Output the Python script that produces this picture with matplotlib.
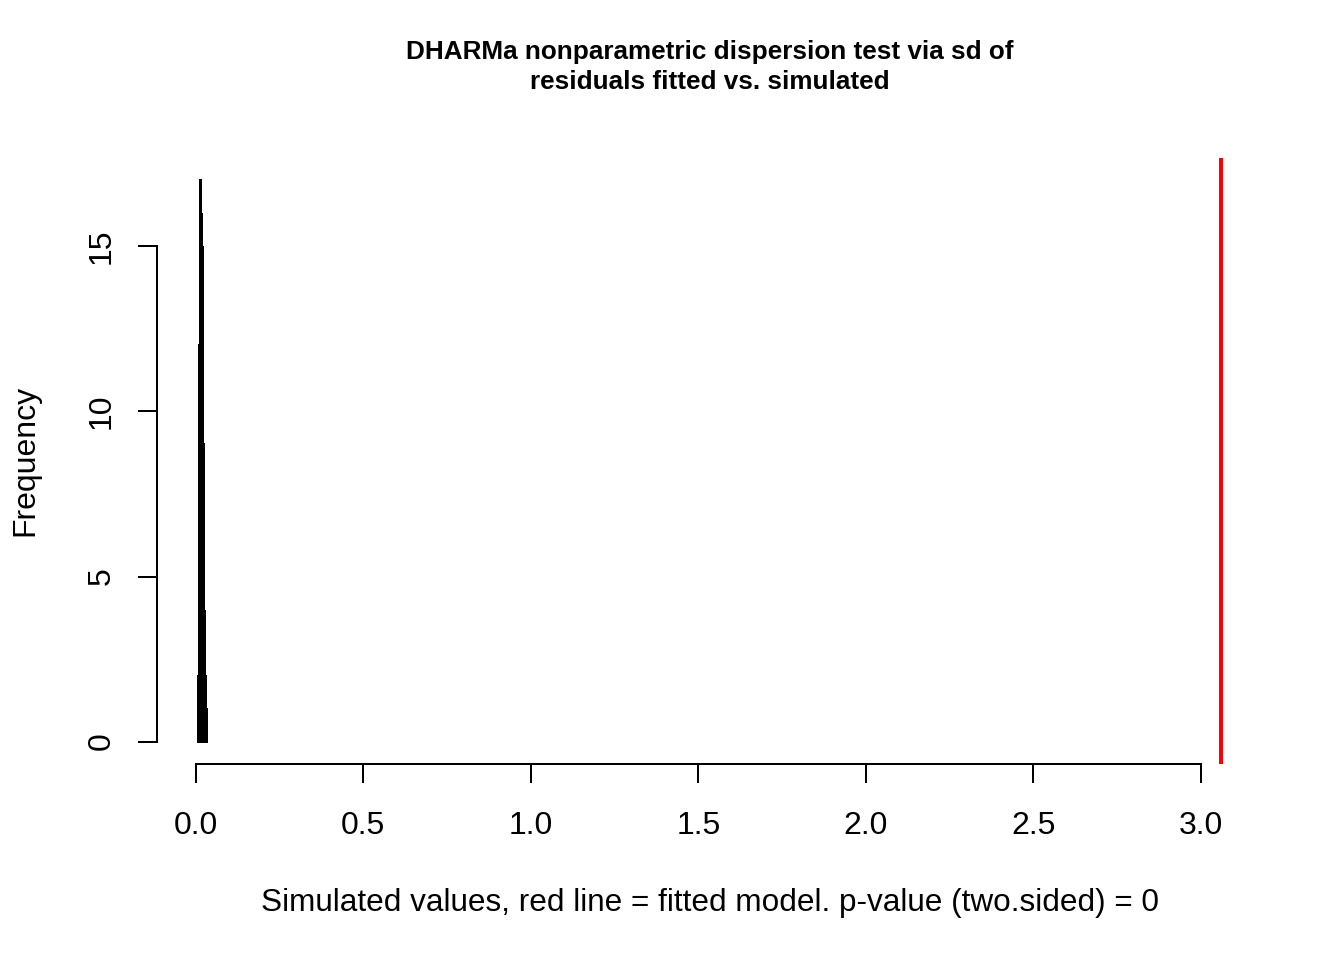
import matplotlib
matplotlib.use("Agg")
import matplotlib.pyplot as plt
import numpy as np

# Histogram of simulated sd values (bin left edges and counts)
bin_lefts = [0.006, 0.007, 0.008, 0.009, 0.010, 0.011, 0.012, 0.013, 0.014,
             0.015, 0.016, 0.017, 0.018, 0.019, 0.020, 0.021, 0.022, 0.023,
             0.024, 0.025, 0.026, 0.027, 0.028, 0.029, 0.030, 0.031, 0.032]
counts = [1, 2, 3, 8, 12, 10, 15, 17, 14, 17, 13, 15, 16, 12, 15, 11, 9, 5,
          4, 3, 4, 2, 2, 1, 2, 1, 1]
bin_width = 0.001
observed = 3.06

x_ticks = [0.0, 0.5, 1.0, 1.5, 2.0, 2.5, 3.0]
x_ticklabels = ["0.0", "0.5", "1.0", "1.5", "2.0", "2.5", "3.0"]
y_ticks = [0, 5, 10, 15]
y_ticklabels = ["0", "5", "10", "15"]

title = "DHARMa nonparametric dispersion test via sd of\nresiduals fitted vs. simulated"
xlabel = "Simulated values, red line = fitted model. p-value (two.sided) = 0"
ylabel = "Frequency"

plt.rcParams['font.family'] = ['Liberation Sans', 'DejaVu Sans']

fig = plt.figure(figsize=(7, 5), dpi=192)
ax = fig.add_axes([157/1344, 1-764/960, (1261-157)/1344, (764-158)/960])

ax.bar(bin_lefts, counts, width=bin_width, align='edge', color='black',
       edgecolor='black', linewidth=0.75)
ax.axvline(observed, color='#ff0000', linewidth=1.5)

ax.set_xlim(-0.116, 3.18)
ax.set_ylim(-0.68, 17.68)

for s in ['top', 'right']:
    ax.spines[s].set_visible(False)
ax.spines['left'].set_bounds(0, 15)
ax.spines['bottom'].set_bounds(0, 3)
ax.spines['left'].set_linewidth(0.75)
ax.spines['bottom'].set_linewidth(0.75)

ax.set_xticks(x_ticks)
ax.set_xticklabels(x_ticklabels)
ax.set_yticks(y_ticks)
ax.set_yticklabels(y_ticklabels, rotation=90, va='center')
ax.tick_params(axis='both', direction='out', length=7, width=0.75,
               labelsize=12)
ax.tick_params(axis='x', pad=10.5)
ax.tick_params(axis='y', pad=8.2)

fig.text(710/1344, 1-903/960, xlabel, ha='center', va='center', fontsize=11.8)
fig.text(25/1344, 1-460/960, ylabel, ha='center', va='center', fontsize=12,
         rotation=90)
fig.text(710/1344, 1-67/960, title, ha='center', va='center', fontsize=9.8,
         fontweight='bold', linespacing=1.28)

fig.savefig("out.png", dpi=192)
